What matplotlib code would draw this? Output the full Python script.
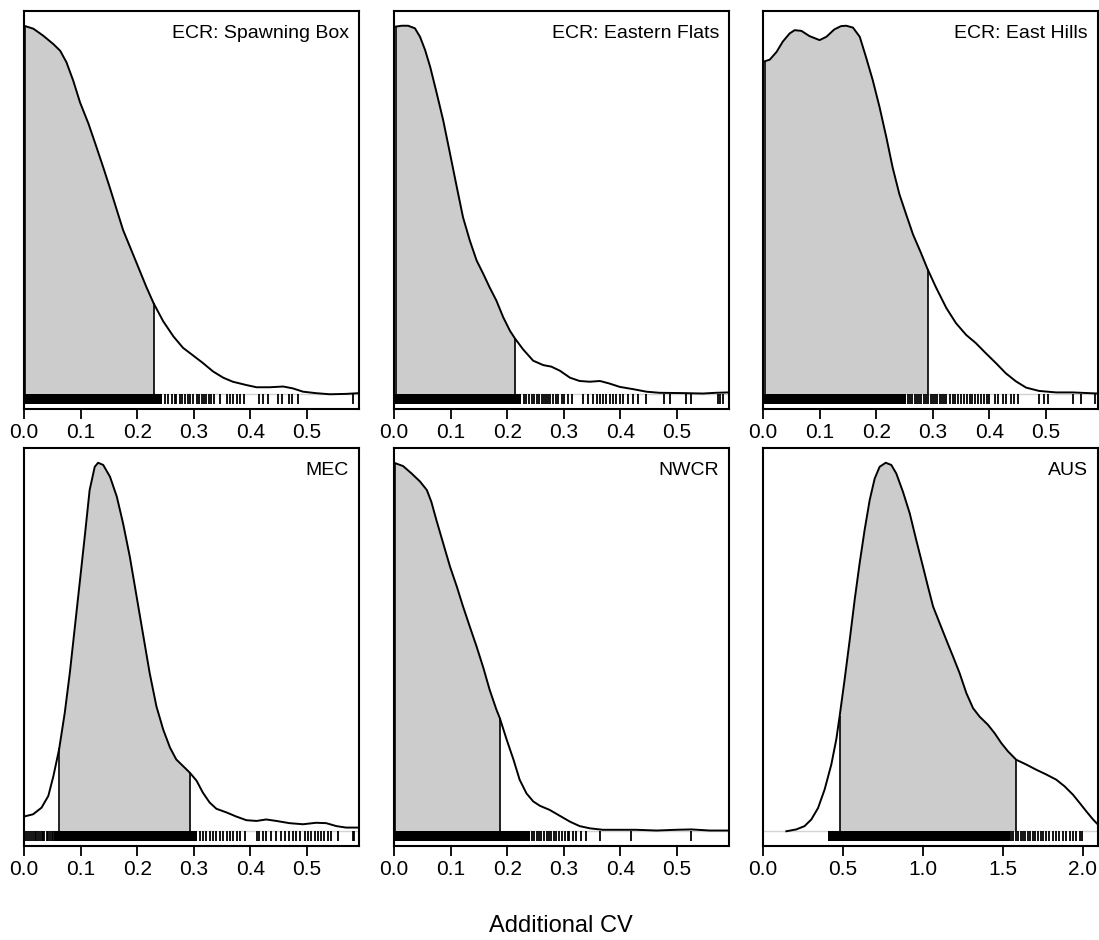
import numpy as np
import matplotlib.pyplot as plt

plt.rcParams['font.family'] = ['Liberation Sans', 'DejaVu Sans']

# density curves (height relative to the peak)
spawn_x = [0.0, 0.0165, 0.034, 0.052, 0.064, 0.075, 0.087, 0.099, 0.114, 0.128, 0.140,
           0.152, 0.164, 0.175, 0.187, 0.199, 0.216, 0.229, 0.246, 0.264, 0.281, 0.299,
           0.316, 0.334, 0.352, 0.369, 0.393, 0.411, 0.434, 0.458, 0.475, 0.493, 0.516,
           0.540, 0.569, 0.592]
spawn_y = [1.0, 0.992, 0.973, 0.950, 0.932, 0.901, 0.851, 0.792, 0.734, 0.671, 0.616,
           0.559, 0.500, 0.446, 0.401, 0.356, 0.292, 0.247, 0.198, 0.157, 0.126, 0.105,
           0.085, 0.062, 0.045, 0.034, 0.025, 0.019, 0.019, 0.021, 0.016, 0.007, 0.003,
           0.0, 0.001, 0.003]

flats_x = [0.0, 0.0135, 0.025, 0.037, 0.046, 0.055, 0.064, 0.075, 0.087, 0.099, 0.111,
           0.122, 0.134, 0.146, 0.158, 0.169, 0.181, 0.193, 0.205, 0.2135, 0.228, 0.246,
           0.264, 0.278, 0.293, 0.311, 0.328, 0.346, 0.364, 0.381, 0.399, 0.422, 0.446,
           0.469, 0.516, 0.546, 0.569, 0.592]
flats_y = [0.997, 1.0, 1.0, 0.993, 0.970, 0.934, 0.888, 0.820, 0.743, 0.653, 0.562,
           0.480, 0.417, 0.363, 0.326, 0.290, 0.254, 0.209, 0.172, 0.152, 0.122, 0.091,
           0.079, 0.075, 0.064, 0.045, 0.036, 0.034, 0.036, 0.029, 0.020, 0.014, 0.007,
           0.004, 0.003, 0.002, 0.004, 0.005]

hills_x = [0.0, 0.012, 0.024, 0.035, 0.047, 0.056, 0.068, 0.082, 0.100, 0.112, 0.126,
           0.138, 0.147, 0.159, 0.171, 0.182, 0.194, 0.206, 0.218, 0.229, 0.241, 0.253,
           0.265, 0.279, 0.291, 0.306, 0.324, 0.341, 0.359, 0.376, 0.394, 0.412, 0.429,
           0.447, 0.465, 0.488, 0.518, 0.547, 0.592]
hills_y = [0.902, 0.908, 0.929, 0.957, 0.979, 0.988, 0.986, 0.972, 0.961, 0.970, 0.990,
           0.999, 1.0, 0.995, 0.970, 0.915, 0.852, 0.779, 0.697, 0.616, 0.543, 0.488,
           0.434, 0.384, 0.339, 0.289, 0.234, 0.193, 0.161, 0.139, 0.111, 0.084, 0.057,
           0.035, 0.018, 0.009, 0.005, 0.005, 0.002]

mec_x = [0.0, 0.016, 0.031, 0.043, 0.052, 0.062, 0.072, 0.081, 0.090, 0.099, 0.108,
         0.116, 0.125, 0.131, 0.140, 0.152, 0.164, 0.175, 0.187, 0.199, 0.211, 0.222,
         0.234, 0.246, 0.258, 0.269, 0.281, 0.293, 0.305, 0.316, 0.328, 0.340, 0.358,
         0.375, 0.393, 0.411, 0.428, 0.446, 0.469, 0.493, 0.516, 0.534, 0.552, 0.569, 0.592]
mec_y = [0.040, 0.046, 0.064, 0.096, 0.150, 0.222, 0.321, 0.430, 0.556, 0.682, 0.809,
         0.926, 0.989, 1.0, 0.994, 0.962, 0.908, 0.836, 0.745, 0.637, 0.529, 0.430,
         0.339, 0.276, 0.227, 0.195, 0.177, 0.159, 0.137, 0.105, 0.078, 0.061, 0.051,
         0.040, 0.030, 0.028, 0.032, 0.028, 0.022, 0.019, 0.023, 0.022, 0.014, 0.010, 0.010]

nwcr_x = [0.0, 0.016, 0.031, 0.046, 0.058, 0.066, 0.075, 0.087, 0.099, 0.111, 0.122,
          0.134, 0.146, 0.158, 0.169, 0.181, 0.187, 0.199, 0.211, 0.222, 0.234, 0.246,
          0.258, 0.275, 0.293, 0.311, 0.328, 0.346, 0.369, 0.405, 0.428, 0.464, 0.499,
          0.525, 0.558, 0.592]
nwcr_y = [1.0, 0.991, 0.971, 0.949, 0.926, 0.894, 0.844, 0.781, 0.718, 0.664, 0.610,
          0.555, 0.501, 0.443, 0.384, 0.330, 0.307, 0.249, 0.195, 0.140, 0.103, 0.081,
          0.069, 0.058, 0.042, 0.026, 0.014, 0.008, 0.004, 0.004, 0.004, 0.002, 0.004,
          0.005, 0.002, 0.002]

aus_x = [0.146, 0.208, 0.260, 0.302, 0.344, 0.385, 0.427, 0.458, 0.479, 0.510, 0.542,
         0.573, 0.604, 0.635, 0.667, 0.698, 0.729, 0.767, 0.802, 0.833, 0.875, 0.917,
         0.958, 1.0, 1.031, 1.063, 1.104, 1.146, 1.188, 1.229, 1.271, 1.313, 1.354,
         1.406, 1.448, 1.490, 1.531, 1.583, 1.646, 1.708, 1.771, 1.833, 1.885, 1.938,
         1.979, 2.021, 2.063, 2.094]
aus_y = [0.0, 0.005, 0.014, 0.032, 0.063, 0.113, 0.181, 0.249, 0.312, 0.411, 0.519,
         0.628, 0.727, 0.817, 0.899, 0.957, 0.989, 1.0, 0.994, 0.971, 0.921, 0.863,
         0.790, 0.718, 0.664, 0.610, 0.565, 0.519, 0.474, 0.429, 0.375, 0.334, 0.311,
         0.289, 0.266, 0.239, 0.217, 0.194, 0.181, 0.167, 0.154, 0.140, 0.122, 0.099,
         0.077, 0.054, 0.032, 0.018]

names = ["ECR: Spawning Box", "ECR: Eastern Flats", "ECR: East Hills", "MEC", "NWCR", "AUS"]
curves_x = [spawn_x, flats_x, hills_x, mec_x, nwcr_x, aus_x]
curves_y = [spawn_y, flats_y, hills_y, mec_y, nwcr_y, aus_y]
lower = [0.002, 0.0035, 0.0035, 0.0624, 0.002, 0.479]
upper = [0.229, 0.2135, 0.291, 0.293, 0.187, 1.579]
x_max = [0.592, 0.592, 0.592, 0.592, 0.592, 2.094]
x_ticks = [[0.0, 0.1, 0.2, 0.3, 0.4, 0.5]] * 5 + [[0.0, 0.5, 1.0, 1.5, 2.0]]

# rug: solid stretch (where ticks merge) plus the separate ticks
rug_band = [(0.0, 0.243), (0.0, 0.225), (0.0, 0.253), (0.053, 0.305), (0.0, 0.240), (0.406, 1.542)]
rug_ticks = [
    [0.249, 0.255, 0.261, 0.266, 0.269, 0.275, 0.280, 0.284, 0.290, 0.294, 0.299, 0.305,
     0.309, 0.314, 0.318, 0.322, 0.327, 0.331, 0.335, 0.346, 0.358, 0.364, 0.369, 0.376,
     0.381, 0.388, 0.416, 0.422, 0.431, 0.449, 0.456, 0.469, 0.474, 0.485, 0.582],
    [0.229, 0.234, 0.239, 0.243, 0.247, 0.252, 0.256, 0.261, 0.265, 0.268, 0.272, 0.276,
     0.281, 0.286, 0.290, 0.296, 0.301, 0.308, 0.314, 0.334, 0.343, 0.352, 0.358, 0.364,
     0.369, 0.375, 0.381, 0.387, 0.393, 0.399, 0.405, 0.414, 0.422, 0.431, 0.446, 0.478,
     0.487, 0.516, 0.524, 0.572, 0.576, 0.581],
    [0.256, 0.260, 0.264, 0.268, 0.272, 0.276, 0.280, 0.284, 0.288, 0.292, 0.296, 0.300,
     0.304, 0.308, 0.312, 0.316, 0.320, 0.324, 0.330, 0.336, 0.340, 0.345, 0.350, 0.355,
     0.360, 0.365, 0.370, 0.375, 0.380, 0.385, 0.390, 0.395, 0.400, 0.410, 0.415, 0.424,
     0.430, 0.438, 0.444, 0.450, 0.488, 0.497, 0.503, 0.547, 0.562, 0.587],
    [0.002, 0.006, 0.009, 0.012, 0.016, 0.019, 0.021, 0.025, 0.028, 0.031, 0.034, 0.036,
     0.040, 0.043, 0.046, 0.049, 0.051, 0.311, 0.316, 0.322, 0.328, 0.334, 0.340, 0.346,
     0.352, 0.358, 0.364, 0.369, 0.376, 0.381, 0.390, 0.411, 0.416, 0.422, 0.428, 0.437,
     0.446, 0.455, 0.461, 0.469, 0.475, 0.481, 0.487, 0.496, 0.502, 0.508, 0.514, 0.519,
     0.525, 0.531, 0.537, 0.543, 0.555, 0.581, 0.584],
    [0.243, 0.247, 0.252, 0.256, 0.260, 0.265, 0.270, 0.274, 0.278, 0.283, 0.287, 0.292,
     0.297, 0.302, 0.307, 0.310, 0.316, 0.322, 0.331, 0.340, 0.364, 0.419, 0.525],
    [1.552, 1.565, 1.580, 1.595, 1.610, 1.625, 1.640, 1.655, 1.670, 1.685, 1.700, 1.720,
     1.735, 1.750, 1.770, 1.790, 1.810, 1.830, 1.850, 1.875, 1.896, 1.917, 1.938, 1.958,
     1.979, 1.996],
]

fig = plt.figure(figsize=(10.99, 9.40), dpi=100)
W, H = 1099.0, 940.0
lefts = [24, 394, 763]
tops = [11, 448]
pw, ph = 335, 398

for i in range(6):
    r, c = divmod(i, 3)
    ax = fig.add_axes([lefts[c] / W, 1 - (tops[r] + ph) / H, pw / W, ph / H])
    x = np.array(curves_x[i])
    y = np.array(curves_y[i])
    lo, hi = lower[i], upper[i]

    ax.axhline(0, color='#d3d3d3', lw=1.0, zorder=1)
    inside = x[(x > lo) & (x < hi)]
    xs = np.concatenate([[lo], inside, [hi]])
    ys = np.interp(xs, x, y)
    ax.fill_between(xs, 0, ys, color='#cccccc', lw=0, zorder=2)
    ax.vlines([lo, hi], 0, [ys[0], ys[-1]], color='black', lw=1.2, zorder=3)
    ax.plot(x, y, color='black', lw=1.4, zorder=4, solid_joinstyle='round')

    b0, b1 = rug_band[i]
    ax.fill_between([b0, b1], -0.026, 0, color='black', lw=0, zorder=3)
    ax.vlines(rug_ticks[i], -0.026, 0, color='black', lw=1.3, zorder=3)

    ax.set_xlim(0, x_max[i])
    ax.set_ylim(-0.04, 1.04)
    ax.set_yticks([])
    ax.set_xticks(x_ticks[i])
    ax.set_xticklabels(['%.1f' % t for t in x_ticks[i]])
    ax.tick_params(axis='x', direction='out', length=7, width=1.3, labelsize=15, pad=3)
    for s in ax.spines.values():
        s.set_linewidth(1.5)
    ax.text(0.970, 0.966, names[i], transform=ax.transAxes, ha='right', va='top', fontsize=14)

fig.text(560.5 / W, 1 - 926 / H, "Additional CV", ha='center', va='center', fontsize=17)

fig.savefig('out.png', dpi=100)
